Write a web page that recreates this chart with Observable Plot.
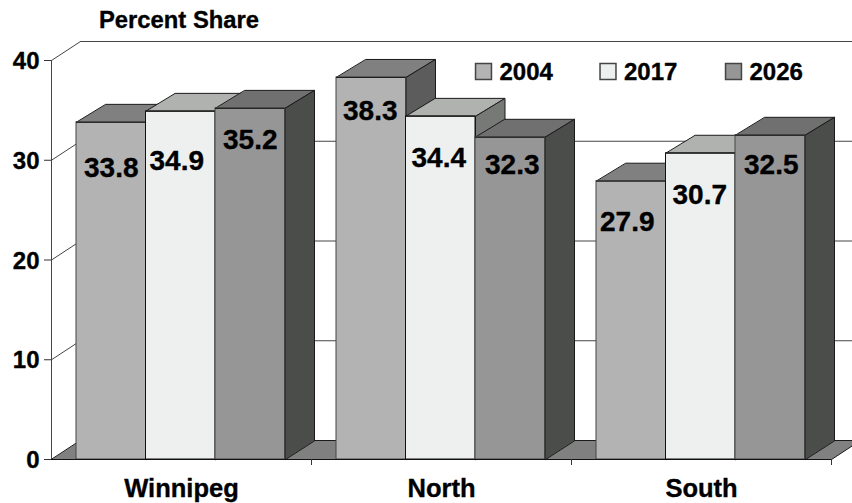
<!DOCTYPE html>
<html><head><meta charset="utf-8">
<script src="https://cdn.jsdelivr.net/npm/d3@7"></script>
<script src="https://cdn.jsdelivr.net/npm/@observablehq/plot@0.6"></script>
<style>html,body{margin:0;padding:0;background:#fff}svg{display:block}</style>
</head><body>
<script>
const categories = ["Winnipeg", "North", "South"];
const years = ["2004", "2017", "2026"];
const values2004 = [33.8, 38.3, 27.9];
const values2017 = [34.9, 34.4, 30.7];
const values2026 = [35.2, 32.3, 32.5];
const yTicks = [0, 10, 20, 30, 40];
const yTitle = "Percent Share";

// layout & styling (not data)
const series = [values2004, values2017, values2026];
const faces = [
  {front: "#b3b3b3", top: "#808080", side: "#5c5c5c", edge: "#444"},
  {front: "#eef0ef", top: "#b0b2b0", side: "#777977", edge: "#111"},
  {front: "#969696", top: "#707070", side: "#4b4d4b", edge: "#444"}
];
const depthX = 29 / 260, depthY = 19 / 9.975;
const barDepthX = 29.5 / 260, barDepthY = 18 / 9.975;
const inset = 25 / 260, barW = 69.5 / 260;
const edge = "#1a1a1a";
const heavy = {fill: "#000", stroke: "#000", strokeWidth: 0.35};
const labelNudge = [
  [[0, 46], [-4, 50], [0, 32]],
  [[-1, 34], [-2, 42], [2, 28]],
  [[-4, 41], [-1, 42], [1, 30]]
];
const legendX = [483, 607.5, 733];

const poly = (pts, fill, stroke = edge) => Plot.line(pts, {x: "0", y: "1", curve: "linear-closed", fill, stroke, strokeWidth: 1});
const seg = (pts, stroke = "#444") => Plot.line(pts, {x: "0", y: "1", stroke, strokeWidth: 1});

const wall = [
  ...yTicks.slice(1).flatMap(t => [
    seg([[0, t], [depthX, t + depthY]]),
    seg([[depthX, t + depthY], [3.2, t + depthY]])
  ]),
  poly([[0, 0], [3, 0], [3 + depthX, depthY], [depthX, depthY]], "#808080"),
  Plot.ruleX([0], {y1: 0, y2: 40, stroke: "#444"})
];

const bars = categories.flatMap((c, i) => years.flatMap((yr, j) => {
  const v = series[j][i], x1 = i + inset + j * barW, x2 = x1 + barW, f = faces[j];
  return [
    poly([[x1, v], [x2, v], [x2 + barDepthX, v + barDepthY], [x1 + barDepthX, v + barDepthY]], f.top),
    poly([[x2, 0], [x2, v], [x2 + barDepthX, v + barDepthY], [x2 + barDepthX, depthY]], f.side),
    Plot.rect([v], {x1: () => x1, x2: () => x2, y1: () => 0, y2: d => d, fill: f.front, stroke: f.edge, strokeWidth: 1}),
    Plot.ruleY([v], {x1: () => x1, x2: () => x2, stroke: edge})
  ];
}));

const labels = categories.flatMap((c, i) => years.map((yr, j) => {
  const v = series[j][i], x = i + inset + (j + .5) * barW, [dx, dy] = labelNudge[i][j];
  return Plot.text([v], {x: () => x, y: d => d, text: d => d.toFixed(1), dx, dy, fontSize: 28, fontWeight: "bold", ...heavy});
}));

const legend = years.flatMap((yr, j) => [
  Plot.dot([yr], {frameAnchor: "top-left", dx: legendX[j] - 51, dy: 71 - 60, symbol: "square", r: 9, fill: faces[j].front, stroke: "#444"}),
  Plot.text([yr], {frameAnchor: "top-left", dx: legendX[j] - 51 + 16, dy: 72 - 60, text: d => d, textAnchor: "start", lineAnchor: "middle", fontSize: 24, fontWeight: "bold", ...heavy})
]);

const chart = Plot.plot({
  width: 852, height: 503,
  marginLeft: 51, marginRight: 21, marginTop: 60, marginBottom: 44,
  style: {fontFamily: "Liberation Sans, Arial, sans-serif", background: "#fff", color: "#000"},
  x: {domain: [0, 3], axis: null},
  y: {domain: [0, 40], axis: null},
  marks: [
    ...wall,
    ...bars,
    Plot.ruleY([0], {x1: 0, x2: 3, stroke: "#111"}),
    ...labels,
    Plot.axisY(yTicks, {anchor: "left", tickSize: 7, tickFormat: () => "", label: null, stroke: "#333"}),
    Plot.text(yTicks, {frameAnchor: "left", x: () => 0, y: d => d, dx: -12, dy: 1, text: d => String(d), textAnchor: "end", fontSize: 24, fontWeight: "bold", ...heavy}),
    Plot.axisX([1, 2, 3], {anchor: "bottom", tickSize: 6, tickFormat: () => "", label: null, stroke: "#333"}),
    Plot.text(categories, {x: (d, i) => i + .5, y: () => 0, dy: 29, text: d => d, fontSize: 25.5, fontWeight: "bold", ...heavy}),
    ...legend,
    Plot.text([yTitle], {frameAnchor: "top-left", dx: 98.5 - 51, dy: 20 - 60, text: d => d, textAnchor: "start", lineAnchor: "middle", fontSize: 23.8, fontWeight: "bold", ...heavy})
  ]
});
document.body.appendChild(chart);
</script>
</body></html>
